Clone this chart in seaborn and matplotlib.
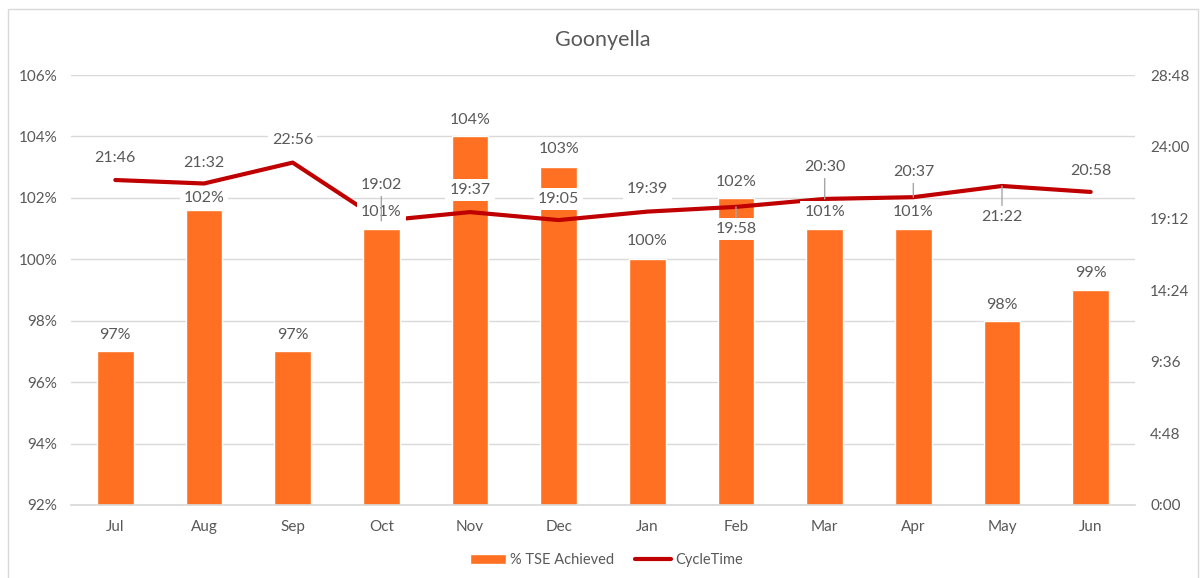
import matplotlib
matplotlib.use("Agg")
import matplotlib.pyplot as plt
import matplotlib.ticker as mticker
from matplotlib.patches import Rectangle
import seaborn as sns
import numpy as np
import pandas as pd

months = ["Jul", "Aug", "Sep", "Oct", "Nov", "Dec", "Jan", "Feb", "Mar", "Apr", "May", "Jun"]
tse_achieved = [97.0, 101.6, 97.0, 101.0, 104.0, 103.0, 100.0, 102.0, 101.0, 101.0, 98.0, 99.0]
tse_labels = ["97%", "102%", "97%", "101%", "104%", "103%", "100%", "102%", "101%", "101%", "98%", "99%"]
cycle_time = ["21:46", "21:32", "22:56", "19:02", "19:37", "19:05", "19:39", "19:58", "20:30", "20:37", "21:22", "20:58"]

def to_minutes(s):
  h, m = s.split(":")
  return int(h) * 60 + int(m)

def fmt_hm(v, pos=None):
  v = int(round(v))
  return "{}:{:02d}".format(v // 60, v % 60)

df = pd.DataFrame({"Month": months, "TSE": tse_achieved, "Cycle": [to_minutes(c) for c in cycle_time]})

sns.set_theme(style="white")
plt.rcParams["font.family"] = ["Lato", "DejaVu Sans"]

grey = "#595959"
orange = "#FF7022"
red = "#C00000"

fig = plt.figure(figsize=(12.01, 5.78), dpi=100)
ax = fig.add_axes([71 / 1201, 73 / 578, 1064 / 1201, 430 / 578])

sns.barplot(data=df, x="Month", y="TSE", ax=ax, color=orange, width=0.41,
            saturation=1, label="% TSE Achieved")
if ax.get_legend() is not None:
  ax.get_legend().remove()
ax.set_ylim(92, 106)
ax.set_yticks(np.arange(92, 107, 2))
ax.yaxis.set_major_formatter(mticker.FuncFormatter(lambda v, p: "{:.0f}%".format(v)))
ax.set_xlim(-0.5, 11.5)
ax.grid(axis="y", color="#D9D9D9", lw=1)
ax.set_axisbelow(True)
ax.set_xlabel("")
ax.set_ylabel("")
for s in ax.spines.values():
  s.set_visible(False)
ax.spines["bottom"].set_visible(True)
ax.spines["bottom"].set_color("#D9D9D9")
ax.tick_params(axis="y", length=0, pad=10, labelsize=11, labelcolor=grey)
ax.tick_params(axis="x", length=0, pad=11, labelsize=11, labelcolor=grey)

ax2 = ax.twinx()
sns.lineplot(x=np.arange(len(months)), y=df["Cycle"], ax=ax2, color=red, lw=3,
             label="CycleTime", legend=False)
ax2.set_ylim(0, 1728)
ax2.set_yticks(np.arange(0, 1729, 288))
ax2.yaxis.set_major_formatter(mticker.FuncFormatter(fmt_hm))
ax2.set_ylabel("")
for s in ax2.spines.values():
  s.set_visible(False)
ax2.tick_params(axis="y", length=0, pad=11, labelsize=11, labelcolor=grey)
ax2.set_xlim(-0.5, 11.5)

# label offsets in points (positive = above the point)
bar_offsets = [12, 8.5, 12, 12, 11.5, 13, 13, 11.5, 12, 12, 11.5, 12]
time_offsets = [16, 14.5, 16, 26, 16, 15, 16, -16, 23, 18, -22, 15]
leaders = [False, False, False, True, False, False, False, True, True, True, True, False]

box = dict(boxstyle="square,pad=0.25", fc="white", ec="none")
for i in range(len(months)):
  ax2.annotate(tse_labels[i], xy=(i, tse_achieved[i]), xycoords=ax.transData,
               xytext=(0, bar_offsets[i]), textcoords="offset points",
               ha="center", va="center", fontsize=11.5, color=grey, bbox=box, zorder=10)
  arrow = dict(arrowstyle="-", color="#A6A6A6", lw=1, shrinkA=0, shrinkB=0) if leaders[i] else None
  ax2.annotate(cycle_time[i], xy=(i, df["Cycle"][i]), xycoords="data",
               xytext=(0, time_offsets[i]), textcoords="offset points",
               ha="center", va="center", fontsize=11.5, color=grey, bbox=box,
               arrowprops=arrow, zorder=11)

fig.text(0.502, 1 - 40 / 578, "Goonyella", ha="center", va="center", fontsize=15.5, color=grey)

h1, l1 = ax.get_legend_handles_labels()
h2, l2 = ax2.get_legend_handles_labels()
fig.legend(h1 + h2, l1 + l2, loc="center", bbox_to_anchor=(0.505, 1 - 560 / 578), ncol=2,
           frameon=False, fontsize=10.5, labelcolor=grey, handlelength=2.5, handletextpad=0.3,
           columnspacing=1.4)

fig.patches.append(Rectangle((8 / 1201, -0.02), 1190 / 1201, 1 - 9 / 578 + 0.02,
                             transform=fig.transFigure, fill=False, ec="#D9D9D9", lw=1))

fig.savefig("out.png", dpi=100, facecolor="white")
